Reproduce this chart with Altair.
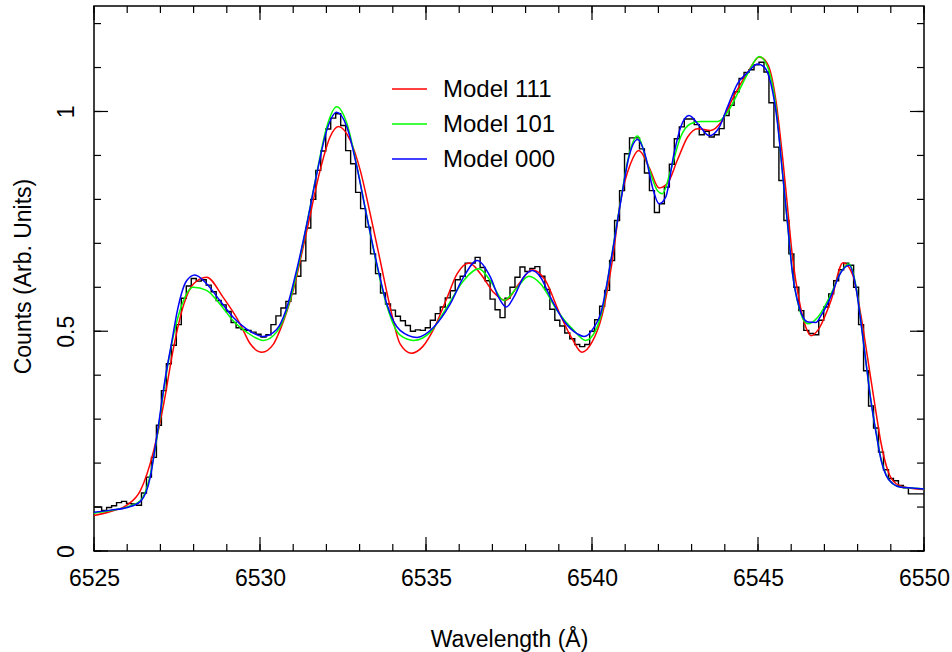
import altair as alt
import pandas as pd

# ---------------- data ----------------
hist_start = 6524.93   # left edge of first bin (Å)
hist_step = 0.15       # bin width (Å)
hist_counts = [
    0.100, 0.100, 0.092, 0.099, 0.103, 0.110, 0.113, 0.108, 0.107, 0.104,
    0.132, 0.168, 0.213, 0.286, 0.365, 0.426, 0.468, 0.515, 0.575, 0.603,
    0.620, 0.614, 0.617, 0.605, 0.590, 0.570, 0.560, 0.545, 0.520, 0.508,
    0.504, 0.502, 0.498, 0.493, 0.487, 0.492, 0.515, 0.535, 0.553, 0.568,
    0.585, 0.625, 0.660, 0.735, 0.800, 0.866, 0.910, 0.960, 0.985, 0.995,
    0.968, 0.911, 0.881, 0.816, 0.779, 0.737, 0.676, 0.631, 0.587, 0.562,
    0.548, 0.534, 0.524, 0.513, 0.500, 0.503, 0.502, 0.508, 0.525, 0.540,
    0.555, 0.576, 0.592, 0.617, 0.625, 0.655, 0.655, 0.668, 0.645, 0.615,
    0.573, 0.549, 0.531, 0.575, 0.600, 0.623, 0.646, 0.636, 0.643, 0.647,
    0.625, 0.595, 0.550, 0.525, 0.512, 0.496, 0.483, 0.470, 0.465, 0.470,
    0.500, 0.526, 0.557, 0.593, 0.661, 0.752, 0.820, 0.904, 0.940, 0.940,
    0.915, 0.860, 0.820, 0.770, 0.790, 0.828, 0.880, 0.938, 0.965, 0.983,
    0.983, 0.970, 0.947, 0.955, 0.942, 0.947, 0.961, 0.991, 1.014, 1.045,
    1.075, 1.089, 1.095, 1.106, 1.112, 1.090, 1.020, 0.919, 0.843, 0.752,
    0.676, 0.600, 0.547, 0.502, 0.495, 0.492, 0.525, 0.555, 0.585, 0.615,
    0.640, 0.655, 0.650, 0.600, 0.515, 0.410, 0.330, 0.280, 0.225, 0.185,
    0.165, 0.160, 0.149, 0.144, 0.130, 0.130, 0.130, 0.130,
]

m111_wl = [6525.0, 6525.5, 6526.0, 6526.4, 6526.8, 6527.1, 6527.4, 6527.7, 6528.0, 6528.39,
           6528.89, 6529.4, 6529.7, 6530.06, 6530.4, 6530.6, 6531.0, 6531.41, 6531.81, 6532.11,
           6532.36, 6532.72, 6533.02, 6533.32, 6533.62, 6533.92, 6534.22, 6534.55, 6534.9, 6535.23,
           6535.6, 6535.94, 6536.3, 6536.64, 6537.04, 6537.4, 6537.8, 6538.2, 6538.6, 6539.0,
           6539.4, 6539.7, 6540.0, 6540.3, 6540.6, 6540.87, 6541.16, 6541.41, 6541.72, 6542.02,
           6542.27, 6542.57, 6542.88, 6543.18, 6543.58, 6543.89, 6544.28, 6544.69, 6545.04, 6545.29,
           6545.54, 6545.74, 6545.89, 6546.04, 6546.24, 6546.44, 6546.6, 6546.8, 6547.2, 6547.56,
           6547.86, 6548.1, 6548.3, 6548.5, 6548.71, 6548.91, 6549.16, 6549.51, 6550.0]
m111_val = [0.081, 0.090, 0.105, 0.138, 0.229, 0.335, 0.464, 0.560, 0.608, 0.623,
            0.577, 0.517, 0.472, 0.452, 0.470, 0.502, 0.593, 0.729, 0.866, 0.942,
            0.966, 0.934, 0.866, 0.767, 0.661, 0.555, 0.471, 0.450, 0.465, 0.505,
            0.570, 0.631, 0.655, 0.631, 0.588, 0.570, 0.608, 0.640, 0.615, 0.545,
            0.483, 0.452, 0.475, 0.535, 0.655, 0.800, 0.881, 0.911, 0.873, 0.826,
            0.836, 0.889, 0.942, 0.961, 0.957, 0.976, 1.036, 1.089, 1.124, 1.108,
            1.025, 0.896, 0.782, 0.668, 0.570, 0.509, 0.490, 0.502, 0.570, 0.656,
            0.627, 0.536, 0.440, 0.342, 0.244, 0.183, 0.153, 0.144, 0.140]

m101_wl = [6525.0, 6525.5, 6526.0, 6526.4, 6526.7, 6526.9, 6527.15, 6527.35, 6527.59, 6527.99,
           6528.39, 6528.79, 6529.19, 6529.6, 6530.1, 6530.5, 6530.9, 6531.2, 6531.41, 6531.71,
           6532.01, 6532.31, 6532.62, 6532.92, 6533.22, 6533.52, 6533.82, 6534.22, 6534.63, 6535.13,
           6535.63, 6536.13, 6536.59, 6536.94, 6537.34, 6537.75, 6538.1, 6538.45, 6538.95, 6539.45,
           6539.81, 6540.11, 6540.3, 6540.57, 6540.87, 6541.11, 6541.37, 6541.67, 6541.97, 6542.12,
           6542.37, 6542.67, 6542.97, 6543.27, 6543.78, 6544.08, 6544.38, 6544.69, 6545.04, 6545.29,
           6545.54, 6545.74, 6545.89, 6546.04, 6546.24, 6546.5, 6546.8, 6547.2, 6547.5, 6547.74,
           6547.95, 6548.1, 6548.25, 6548.4, 6548.56, 6548.71, 6548.86, 6549.06, 6549.31, 6549.71,
           6550.0]
m101_val = [0.086, 0.092, 0.100, 0.115, 0.175, 0.260, 0.390, 0.475, 0.547, 0.600,
            0.593, 0.562, 0.524, 0.498, 0.479, 0.498, 0.570, 0.665, 0.744, 0.860,
            0.965, 1.011, 0.972, 0.875, 0.760, 0.650, 0.558, 0.491, 0.479, 0.498,
            0.555, 0.615, 0.642, 0.615, 0.570, 0.600, 0.625, 0.608, 0.547, 0.502,
            0.479, 0.502, 0.545, 0.661, 0.800, 0.900, 0.944, 0.881, 0.820, 0.813,
            0.866, 0.942, 0.972, 0.977, 0.977, 0.998, 1.040, 1.086, 1.125, 1.101,
            1.010, 0.860, 0.745, 0.632, 0.553, 0.517, 0.532, 0.585, 0.635, 0.653,
            0.603, 0.522, 0.432, 0.343, 0.268, 0.208, 0.173, 0.153, 0.145, 0.143,
            0.141]

m000_wl = [6525.0, 6525.5, 6526.0, 6526.4, 6526.7, 6526.9, 6527.15, 6527.35, 6527.5, 6527.79,
           6528.04, 6528.39, 6528.79, 6529.19, 6529.6, 6530.1, 6530.5, 6530.8, 6531.1, 6531.41,
           6531.71, 6532.01, 6532.31, 6532.62, 6532.92, 6533.22, 6533.52, 6533.82, 6534.22, 6534.73,
           6535.23, 6535.73, 6536.13, 6536.54, 6536.94, 6537.19, 6537.42, 6537.64, 6537.94, 6538.2,
           6538.45, 6538.75, 6539.15, 6539.56, 6539.76, 6540.06, 6540.26, 6540.57, 6540.87, 6541.11,
           6541.37, 6541.62, 6541.82, 6542.02, 6542.22, 6542.47, 6542.67, 6542.92, 6543.23, 6543.53,
           6543.83, 6544.08, 6544.38, 6544.69, 6544.99, 6545.19, 6545.39, 6545.59, 6545.74, 6545.89,
           6546.04, 6546.24, 6546.5, 6546.75, 6546.9, 6547.2, 6547.44, 6547.74, 6547.95, 6548.1,
           6548.25, 6548.4, 6548.56, 6548.71, 6548.86, 6549.06, 6549.31, 6549.71, 6550.0]
m000_val = [0.088, 0.093, 0.099, 0.113, 0.170, 0.265, 0.395, 0.479, 0.543, 0.615,
            0.628, 0.608, 0.570, 0.532, 0.505, 0.488, 0.504, 0.552, 0.638, 0.744,
            0.858, 0.957, 0.998, 0.964, 0.873, 0.760, 0.653, 0.562, 0.502, 0.486,
            0.509, 0.562, 0.623, 0.661, 0.623, 0.577, 0.555, 0.577, 0.623, 0.638,
            0.623, 0.577, 0.524, 0.494, 0.488, 0.509, 0.540, 0.661, 0.797, 0.896,
            0.936, 0.896, 0.828, 0.790, 0.805, 0.904, 0.964, 0.991, 0.968, 0.945,
            0.964, 1.010, 1.063, 1.089, 1.108, 1.101, 1.063, 0.972, 0.858, 0.744,
            0.631, 0.555, 0.521, 0.520, 0.536, 0.580, 0.626, 0.650, 0.600, 0.520,
            0.430, 0.342, 0.267, 0.206, 0.172, 0.153, 0.145, 0.143, 0.141]

x_ticks_major = [6525, 6530, 6535, 6540, 6545, 6550]
x_ticks_minor = [6525, 6526, 6527, 6528, 6529, 6530, 6531, 6532, 6533, 6534, 6535, 6536, 6537,
                 6538, 6539, 6540, 6541, 6542, 6543, 6544, 6545, 6546, 6547, 6548, 6549, 6550]
y_ticks_major = [0.0, 0.5, 1.0]
y_ticks_minor = [0.0, 0.1, 0.2, 0.3, 0.4, 0.5, 0.6, 0.7, 0.8, 0.9, 1.0, 1.1, 1.2]

legend_labels = ["Model 111", "Model 101", "Model 000"]
legend_colors = ["#ff0000", "#00ff00", "#0000ff"]

# ---------------- chart ----------------
W, H = 830, 545
FONT = "Liberation Sans"

edges = [hist_start + hist_step * i for i in range(len(hist_counts) + 1)]
df_hist = pd.DataFrame({"wl": edges, "v": hist_counts + [hist_counts[-1]]})

xs = alt.Scale(domain=[6525, 6550], nice=False, zero=False)
ys = alt.Scale(domain=[0, 1.24], nice=False, zero=False)

xaxis = alt.Axis(values=x_ticks_major, format="d", grid=False, domain=False, ticks=False,
                 tickSize=0, labelPadding=34, labelBaseline="alphabetic",
                 labelFlush=False, labelOverlap=False,
                 titleX=W / 2, titleY=95, titleAlign="center", titleBaseline="alphabetic")
yaxis = alt.Axis(values=y_ticks_major, format="~g", grid=False, domain=False, ticks=False,
                 tickSize=0, labelAngle=270, labelAlign="center", labelBaseline="alphabetic",
                 labelPadding=21, labelFlush=False, labelOverlap=False,
                 titleAngle=270, titleX=-64, titleY=270, titleAlign="center",
                 titleBaseline="alphabetic")

X = alt.X("wl:Q", scale=xs, axis=xaxis, title="Wavelength (Å)")
Y = alt.Y("v:Q", scale=ys, axis=yaxis, title="Counts (Arb. Units)")

hist = alt.Chart(df_hist).mark_line(
    interpolate="step-after", color="black", strokeWidth=1.4, clip=True
).encode(x=X, y=Y)


def model_line(wl, val, color):
    df = pd.DataFrame({"wl": wl, "v": val})
    return alt.Chart(df).mark_line(
        interpolate="monotone", color=color, strokeWidth=1.5, clip=True
    ).encode(x=X, y=Y)


red = model_line(m111_wl, m111_val, legend_colors[0])
green = model_line(m101_wl, m101_val, legend_colors[1])
blue = model_line(m000_wl, m000_val, legend_colors[2])

df_xmin = pd.DataFrame({"wl": x_ticks_minor})
df_xmaj = pd.DataFrame({"wl": x_ticks_major})
df_ymin = pd.DataFrame({"v": y_ticks_minor})
df_ymaj = pd.DataFrame({"v": y_ticks_major})

tk = dict(color="black", strokeWidth=1.2)
ticks = [
    alt.Chart(df_xmin).mark_rule(**tk).encode(x=X, y=alt.value(H - 7), y2=alt.value(H)),
    alt.Chart(df_xmin).mark_rule(**tk).encode(x=X, y=alt.value(0), y2=alt.value(7)),
    alt.Chart(df_xmaj).mark_rule(**tk).encode(x=X, y=alt.value(H - 14), y2=alt.value(H)),
    alt.Chart(df_xmaj).mark_rule(**tk).encode(x=X, y=alt.value(0), y2=alt.value(14)),
    alt.Chart(df_ymin).mark_rule(**tk).encode(y=Y, x=alt.value(0), x2=alt.value(7)),
    alt.Chart(df_ymin).mark_rule(**tk).encode(y=Y, x=alt.value(W - 7), x2=alt.value(W)),
    alt.Chart(df_ymaj).mark_rule(**tk).encode(y=Y, x=alt.value(0), x2=alt.value(14)),
    alt.Chart(df_ymaj).mark_rule(**tk).encode(y=Y, x=alt.value(W - 14), x2=alt.value(W)),
]

legend_layers = []
leg_y = [83, 118, 153]
for lab, col, yy in zip(legend_labels, legend_colors, leg_y):
    legend_layers.append(
        alt.Chart(pd.DataFrame({"label": [lab]})).mark_rule(color=col, strokeWidth=1.5).encode(
            x=alt.value(298), x2=alt.value(333), y=alt.value(yy)
        )
    )
    legend_layers.append(
        alt.Chart(pd.DataFrame({"label": [lab]})).mark_text(
            align="left", baseline="middle", font=FONT, fontSize=24, color="black"
        ).encode(x=alt.value(349), y=alt.value(yy + 1), text="label:N")
    )

chart = alt.layer(hist, red, green, blue, *ticks, *legend_layers).properties(
    width=W,
    height=H,
    padding={"left": 94, "top": 6, "right": 28, "bottom": 101},
    autosize=alt.AutoSizeParams(type="none"),
    background="white",
).configure_view(
    stroke="black", strokeWidth=1.5
).configure_axis(
    labelFont=FONT, labelFontSize=23, labelColor="black",
    titleFont=FONT, titleFontSize=23, titleFontWeight="normal", titleColor="black",
)

chart.save("out.html", embed_options={"renderer": "svg", "actions": False})
